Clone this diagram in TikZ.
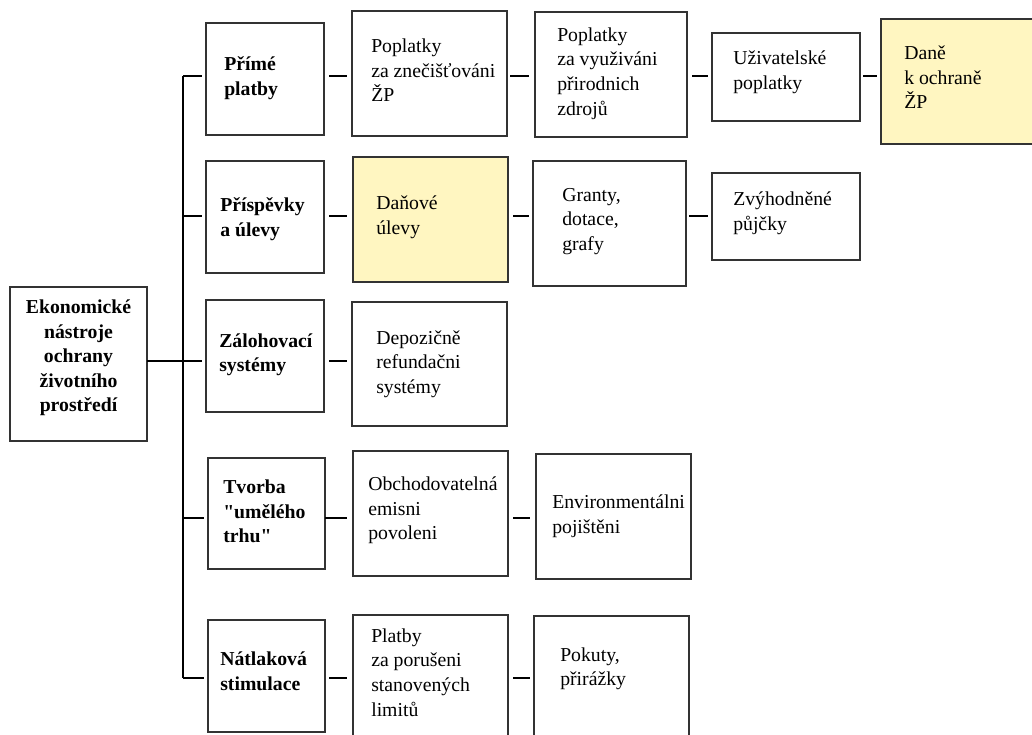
\documentclass[tikz,border=0pt]{standalone}
\usepackage{fontspec}
\setmainfont{Liberation Serif}[Ligatures=TeXOff]
\usetikzlibrary{calc}
\definecolor{boxline}{HTML}{333333}
\definecolor{hilite}{HTML}{FFF6C1}
\tikzset{
  boxstyle/.style={draw=boxline, line width=1.1pt, fill=white, inner sep=0pt, outer sep=0pt},
  yellowbox/.style={boxstyle, fill=hilite},
  txt/.style={inner sep=0pt, align=left, font=\fontsize{14.8pt}{18.4pt}\selectfont},
  btxt/.style={txt, font=\fontsize{14.8pt}{18.4pt}\selectfont\bfseries},
  conn/.style={line width=1.1pt, black}
}
% \bx{name}{x1}{y1}{x2}{y2}{style}
\newcommand\bx[6]{%
  \node[#6, minimum width={(#4-#2)*0.75pt}, minimum height={(#5-#3)*0.75pt}]
    (#1) at ({(#2+#4)/2},{(#3+#5)/2}) {};}
% \tx{box}{inset}{dy}{style}{text}
\newcommand\tx[5]{%
  \node[#4, anchor=west] (#1t) at ([shift={(#2,#3)}]#1.west) {#5};}
% \dsh{a}{b}{gapA}{gapB}{row}
\newcommand\dsh[5]{%
  \draw[conn] ($(#1.east |- #5)+(#3,0)$) -- ($(#2.west |- #5)+(-#4,0)$);}
\begin{document}
\begin{tikzpicture}[x=0.75pt, y=-0.75pt]
\useasboundingbox (0,0) rectangle (1032,735);

% boxes
\bx{root}{10}{287}{147}{441}{boxstyle}
\bx{c21}{206}{23}{324}{135}{boxstyle}
\bx{c22}{206}{161}{324}{273}{boxstyle}
\bx{c23}{206}{300}{324}{412}{boxstyle}
\bx{c24}{208}{458}{325}{569}{boxstyle}
\bx{c25}{208}{620}{325}{732}{boxstyle}
\bx{c31}{352}{11}{507}{136}{boxstyle}
\bx{c32}{353}{157}{508}{282}{yellowbox}
\bx{c33}{352}{302}{507}{426}{boxstyle}
\bx{c34}{353}{451}{508}{576}{boxstyle}
\bx{c35}{353}{615}{508}{748}{boxstyle}
\bx{c41}{535}{12}{687}{137}{boxstyle}
\bx{c42}{533}{161}{686}{286}{boxstyle}
\bx{c44}{536}{454}{691}{579}{boxstyle}
\bx{c45}{534}{616}{689}{748}{boxstyle}
\bx{c51}{712}{33}{860}{121}{boxstyle}
\bx{c52}{712}{173}{860}{260}{boxstyle}
\bx{c61}{881}{19}{1048}{144}{yellowbox}

% texts
\node[btxt, align=center] (roott) at ([shift={(0,-6)}]root.center)
  {Ekonomické\\nástroje\\ochrany\\životního\\prostředí};
\tx{c21}{18}{-1}{btxt}{Přímé\\platby}
\tx{c22}{14}{2}{btxt}{Příspěvky\\a úlevy}
\tx{c23}{13}{-1}{btxt}{Zálohovací\\systémy}
\tx{c24}{15}{-2}{btxt}{Tvorba\\"umělého\\trhu"}
\tx{c25}{12}{-5}{btxt}{Nátlaková\\stimulace}
\tx{c31}{19}{-3}{txt}{Poplatky\\za znečišťováni\\ŽP}
\tx{c32}{23}{-2}{txt}{Daňové\\úlevy}
\tx{c33}{24}{0}{txt}{Depozičně\\refundačni\\systémy}
\tx{c34}{15}{-3}{txt}{Obchodovatelná\\emisni\\povoleni}
\tx{c35}{18}{-9}{txt}{Platby\\za porušeni\\stanovených\\limitů}
\tx{c41}{22}{-1}{txt}{Poplatky\\za využiváni\\přirodnich\\zdrojů}
\tx{c42}{29}{-2}{txt}{Granty,\\dotace,\\grafy}
\tx{c44}{16}{0}{txt}{Environmentálni\\pojištěni}
\tx{c45}{26}{-13}{txt}{Pokuty,\\přirážky}
\tx{c51}{21}{-5}{txt}{Uživatelské\\poplatky}
\tx{c52}{21}{-3}{txt}{Zvýhodněné\\půjčky}
\tx{c61}{23}{-4}{txt}{Daně\\k ochraně\\ŽP}

% tree trunk
\coordinate (r1) at (183,76);
\coordinate (r2) at (183,216);
\coordinate (r3) at (183,361);
\coordinate (r4) at (183,518);
\coordinate (r5) at (183,678);
\draw[conn] (r1) -- (r5);
\draw[conn] (r1) -- ($(c21.west |- r1)+(-4,0)$);
\draw[conn] (r2) -- ($(c22.west |- r2)+(-4,0)$);
\draw[conn] (root.east |- r3) -- ($(c23.west |- r3)+(-4,0)$);
\draw[conn] (r4) -- ($(c24.west |- r4)+(-4,0)$);
\draw[conn] (r5) -- ($(c25.west |- r5)+(-4,0)$);

% row connectors
\dsh{c21}{c31}{5}{5}{r1}
\dsh{c31}{c41}{3}{6}{r1}
\dsh{c41}{c51}{5}{4}{r1}
\dsh{c51}{c61}{3}{4}{r1}
\dsh{c22}{c32}{5}{6}{r2}
\dsh{c32}{c42}{5}{4}{r2}
\dsh{c42}{c52}{3}{4}{r2}
\dsh{c23}{c33}{5}{5}{r3}
\dsh{c24}{c34}{0}{6}{r4}
\dsh{c34}{c44}{5}{6}{r4}
\dsh{c25}{c35}{4}{6}{r5}
\dsh{c35}{c45}{5}{4}{r5}
\end{tikzpicture}
\end{document}
